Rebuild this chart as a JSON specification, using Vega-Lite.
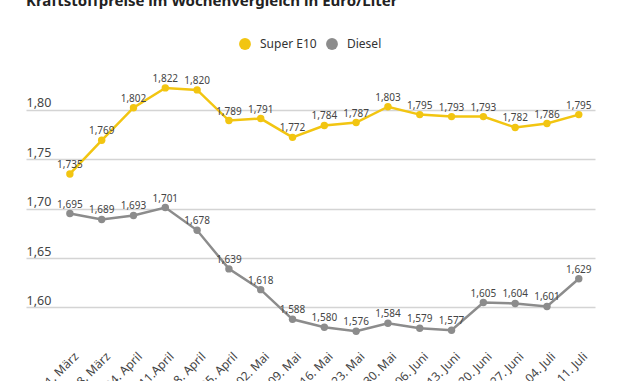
{
  "$schema": "https://vega.github.io/schema/vega-lite/v6.json",
  "width": 569,
  "height": 267,
  "autosize": {"type": "none"},
  "padding": {"left": 26, "top": 80, "right": 35, "bottom": 34},
  "background": "white",
  "title": {
    "text": "Kraftstoffpreise im Wochenvergleich in Euro/Liter",
    "anchor": "start",
    "frame": "group",
    "offset": 29,
    "fontSize": 15,
    "fontWeight": "bold",
    "color": "#222222",
    "font": "Noto Sans"
  },
  "data": {
    "values": [
      {"datum": "21. März", "sorte": "Super E10", "preis": 1.735},
      {"datum": "28. März", "sorte": "Super E10", "preis": 1.769},
      {"datum": "04. April", "sorte": "Super E10", "preis": 1.802},
      {"datum": "11.April", "sorte": "Super E10", "preis": 1.822},
      {"datum": "18. April", "sorte": "Super E10", "preis": 1.820},
      {"datum": "25. April", "sorte": "Super E10", "preis": 1.789},
      {"datum": "02. Mai", "sorte": "Super E10", "preis": 1.791},
      {"datum": "09. Mai", "sorte": "Super E10", "preis": 1.772},
      {"datum": "16. Mai", "sorte": "Super E10", "preis": 1.784},
      {"datum": "23. Mai", "sorte": "Super E10", "preis": 1.787},
      {"datum": "30. Mai", "sorte": "Super E10", "preis": 1.803},
      {"datum": "06. Juni", "sorte": "Super E10", "preis": 1.795},
      {"datum": "13. Juni", "sorte": "Super E10", "preis": 1.793},
      {"datum": "20. Juni", "sorte": "Super E10", "preis": 1.793},
      {"datum": "27. Juni", "sorte": "Super E10", "preis": 1.782},
      {"datum": "04. Juli", "sorte": "Super E10", "preis": 1.786},
      {"datum": "11. Juli", "sorte": "Super E10", "preis": 1.795},
      {"datum": "21. März", "sorte": "Diesel", "preis": 1.695},
      {"datum": "28. März", "sorte": "Diesel", "preis": 1.689},
      {"datum": "04. April", "sorte": "Diesel", "preis": 1.693},
      {"datum": "11.April", "sorte": "Diesel", "preis": 1.701},
      {"datum": "18. April", "sorte": "Diesel", "preis": 1.678},
      {"datum": "25. April", "sorte": "Diesel", "preis": 1.639},
      {"datum": "02. Mai", "sorte": "Diesel", "preis": 1.618},
      {"datum": "09. Mai", "sorte": "Diesel", "preis": 1.588},
      {"datum": "16. Mai", "sorte": "Diesel", "preis": 1.580},
      {"datum": "23. Mai", "sorte": "Diesel", "preis": 1.576},
      {"datum": "30. Mai", "sorte": "Diesel", "preis": 1.584},
      {"datum": "06. Juni", "sorte": "Diesel", "preis": 1.579},
      {"datum": "13. Juni", "sorte": "Diesel", "preis": 1.577},
      {"datum": "20. Juni", "sorte": "Diesel", "preis": 1.605},
      {"datum": "27. Juni", "sorte": "Diesel", "preis": 1.604},
      {"datum": "04. Juli", "sorte": "Diesel", "preis": 1.601},
      {"datum": "11. Juli", "sorte": "Diesel", "preis": 1.629}
    ]
  },
  "encoding": {
    "x": {
      "field": "datum",
      "type": "ordinal",
      "sort": null,
      "scale": {"type": "point", "padding": 0.945, "align": 0.73},
      "axis": {
        "title": null,
        "labelAngle": -45,
        "labelAlign": "right",
        "labelBaseline": "middle",
        "labelPadding": 7,
        "labelOffset": 6,
        "domain": false,
        "ticks": false,
        "grid": false,
        "labelFontSize": 12,
        "labelColor": "#444444",
        "labelFont": "Noto Sans",
        "labelOverlap": false
      }
    },
    "y": {
      "field": "preis",
      "type": "quantitative",
      "scale": {"domain": [1.56, 1.83], "nice": false, "zero": false},
      "axis": {
        "title": null,
        "values": [1.6, 1.65, 1.7, 1.75, 1.8],
        "format": ".2f",
        "grid": true,
        "gridColor": "#d4d4d4",
        "gridWidth": 1.5,
        "domain": false,
        "ticks": false,
        "tickSize": 0,
        "labelAlign": "left",
        "labelBaseline": "bottom",
        "labelPadding": 0,
        "labelDx": 1,
        "labelDy": -2,
        "labelFontSize": 12.5,
        "labelColor": "#444444",
        "labelFont": "Noto Sans"
      }
    },
    "color": {
      "field": "sorte",
      "type": "nominal",
      "scale": {"domain": ["Super E10", "Diesel"], "range": ["#f2c511", "#8c8c8c"]},
      "legend": {
        "title": null,
        "orient": "none",
        "direction": "horizontal",
        "legendX": 213,
        "legendY": -42,
        "symbolType": "circle",
        "symbolSize": 140,
        "symbolStrokeWidth": 0,
        "labelFontSize": 12,
        "labelOffset": 9,
        "labelColor": "#333333",
        "labelFont": "Noto Sans",
        "columnPadding": 9,
        "symbolOpacity": 1
      }
    }
  },
  "layer": [
    {"mark": {"type": "line", "strokeWidth": 2.5}},
    {"mark": {"type": "point", "filled": true, "size": 55, "opacity": 1}},
    {
      "mark": {"type": "text", "dy": -9, "fontSize": 10, "font": "Noto Sans", "color": "#444444"},
      "encoding": {
        "text": {"field": "preis", "type": "quantitative", "format": ".3f"},
        "color": {"value": "#444444"}
      }
    }
  ],
  "config": {
    "view": {"stroke": null},
    "locale": {"number": {"decimal": ",", "thousands": ".", "grouping": [3], "currency": ["", " €"]}}
  }
}
